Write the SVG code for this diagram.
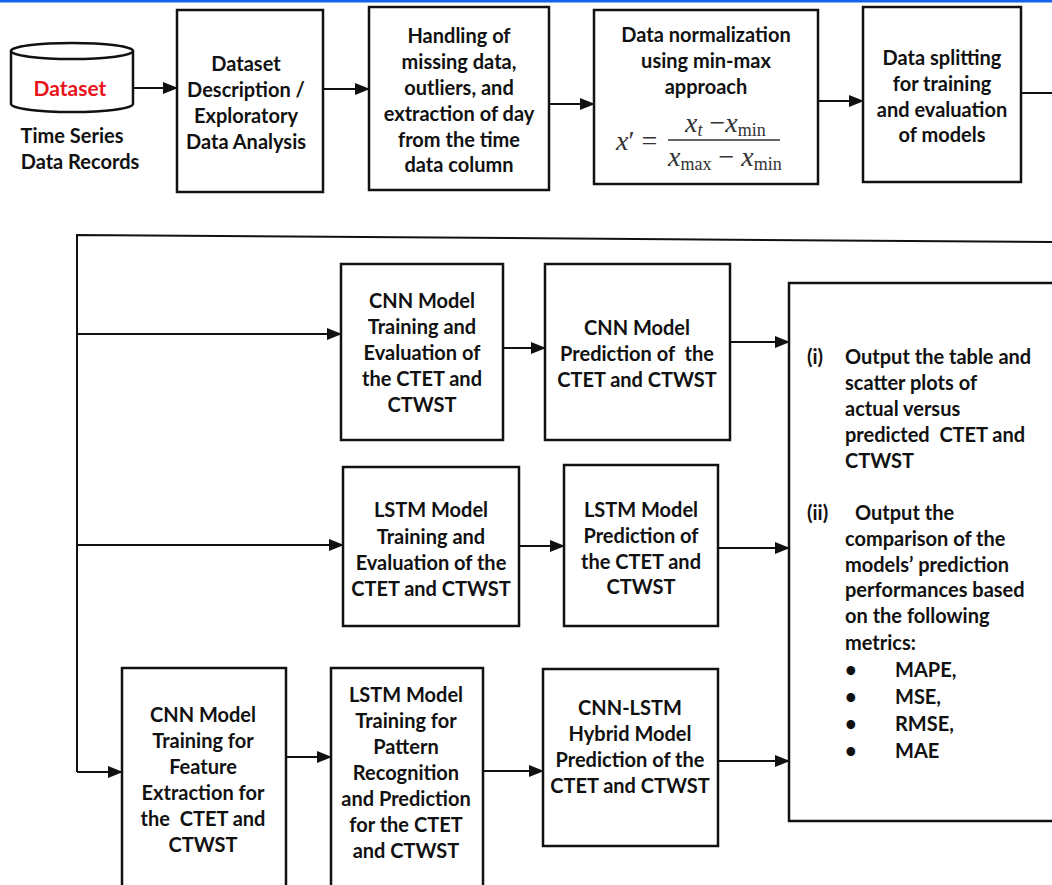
<svg xmlns="http://www.w3.org/2000/svg" width="1052" height="885" viewBox="0 0 1052 885">
<style>
.box{fill:#fff;stroke:#111;stroke-width:2.5}
.ln{fill:none;stroke:#111;stroke-width:2}
.t{font-family:Lato,"Open Sans","Liberation Sans",sans-serif;font-weight:bold;font-size:20px;fill:#111;text-anchor:middle;dominant-baseline:central}
.ts{font-family:Lato,"Open Sans","Liberation Sans",sans-serif;font-weight:bold;font-size:20px;fill:#111;dominant-baseline:central}
.m{font-family:"Liberation Serif","DejaVu Serif",serif;fill:#333;font-size:28px}
</style>
<defs>
<marker id="ah" markerUnits="userSpaceOnUse" markerWidth="15" markerHeight="12" refX="14" refY="6" orient="auto">
<path d="M0,0 L15,6 L0,12 z" fill="#111"/>
</marker>
</defs>
<rect x="0" y="0" width="1052" height="2.5" fill="#1463ea"/>

<g id="connectors">
<line class="ln" x1="133" y1="88" x2="177" y2="88" marker-end="url(#ah)"/>
<line class="ln" x1="323" y1="89" x2="369" y2="89" marker-end="url(#ah)"/>
<line class="ln" x1="549" y1="104" x2="594" y2="104" marker-end="url(#ah)"/>
<line class="ln" x1="818" y1="101" x2="863" y2="101" marker-end="url(#ah)"/>
<line class="ln" x1="1021" y1="93" x2="1052" y2="93"/>
<path class="ln" d="M1052,242 L77,235 L77,772"/>
<line class="ln" x1="77" y1="772" x2="122" y2="772" marker-end="url(#ah)"/>
<line class="ln" x1="77" y1="334" x2="341" y2="334" marker-end="url(#ah)"/>
<line class="ln" x1="77" y1="545" x2="343" y2="545" marker-end="url(#ah)"/>
<line class="ln" x1="503" y1="348" x2="545" y2="348" marker-end="url(#ah)"/>
<line class="ln" x1="730" y1="342" x2="789" y2="342" marker-end="url(#ah)"/>
<line class="ln" x1="519" y1="546" x2="564" y2="546" marker-end="url(#ah)"/>
<line class="ln" x1="718" y1="548" x2="789" y2="548" marker-end="url(#ah)"/>
<line class="ln" x1="286" y1="757" x2="331" y2="757" marker-end="url(#ah)"/>
<line class="ln" x1="483" y1="771" x2="543" y2="771" marker-end="url(#ah)"/>
<line class="ln" x1="718" y1="761" x2="789" y2="761" marker-end="url(#ah)"/>
</g>

<g id="dataset">
<path class="box" d="M11,51 V104 A61,8 0 0 0 133,104 V51"/>
<ellipse class="box" cx="72" cy="51" rx="61" ry="8"/>
<text class="t" x="70" y="87" style="fill:#e8141a;font-size:21px">Dataset</text>
<text class="t" x="72" y="135">Time Series</text>
<text class="t" x="80" y="161">Data Records</text>
</g>

<g id="eda">
<rect class="box" x="177" y="10" width="146" height="182"/>
<text class="t" x="246" y="63">Dataset</text>
<text class="t" x="246" y="89">Description /</text>
<text class="t" x="246" y="115">Exploratory</text>
<text class="t" x="246" y="141">Data Analysis</text>
</g>

<g id="handling">
<rect class="box" x="369" y="7" width="180" height="183"/>
<text class="t" x="459" y="35">Handling of</text>
<text class="t" x="459" y="61">missing data,</text>
<text class="t" x="459" y="87">outliers, and</text>
<text class="t" x="459" y="113">extraction of day</text>
<text class="t" x="459" y="139">from the time</text>
<text class="t" x="459" y="164">data column</text>
</g>

<g id="normalization">
<rect class="box" x="594" y="10" width="224" height="174"/>
<text class="t" x="706" y="34">Data normalization</text>
<text class="t" x="706" y="60">using min-max</text>
<text class="t" x="706" y="86">approach</text>
<text class="m" x="616" y="150"><tspan font-style="italic">x</tspan>′ =</text>
<text class="m" x="685" y="132"><tspan font-style="italic">x</tspan><tspan font-style="italic" font-size="18" dy="4">t</tspan><tspan dy="-4"> −</tspan><tspan font-style="italic">x</tspan><tspan font-size="18" dy="4">min</tspan></text>
<line x1="668" y1="140" x2="780" y2="140" stroke="#333" stroke-width="1.5"/>
<text class="m" x="668" y="166"><tspan font-style="italic">x</tspan><tspan font-size="18" dy="4">max</tspan><tspan dy="-4"> − </tspan><tspan font-style="italic">x</tspan><tspan font-size="18" dy="4">min</tspan></text>
</g>

<g id="splitting">
<rect class="box" x="863" y="7" width="158" height="175"/>
<text class="t" x="942" y="57">Data splitting</text>
<text class="t" x="942" y="83">for training</text>
<text class="t" x="942" y="109">and evaluation</text>
<text class="t" x="942" y="134">of models</text>
</g>

<g id="cnn-train">
<rect class="box" x="341" y="264" width="162" height="176"/>
<text class="t" x="422" y="300">CNN Model</text>
<text class="t" x="422" y="326">Training and</text>
<text class="t" x="422" y="352">Evaluation of</text>
<text class="t" x="422" y="378">the CTET and</text>
<text class="t" x="422" y="404">CTWST</text>
</g>

<g id="cnn-pred">
<rect class="box" x="545" y="264" width="185" height="176"/>
<text class="t" x="637" y="327">CNN Model</text>
<text class="t" x="637" y="353" xml:space="preserve">Prediction of  the</text>
<text class="t" x="637" y="379">CTET and CTWST</text>
</g>

<g id="lstm-train">
<rect class="box" x="343" y="467" width="176" height="159"/>
<text class="t" x="431" y="509">LSTM Model</text>
<text class="t" x="431" y="536">Training and</text>
<text class="t" x="431" y="562">Evaluation of the</text>
<text class="t" x="431" y="588">CTET and CTWST</text>
</g>

<g id="lstm-pred">
<rect class="box" x="564" y="465" width="154" height="161"/>
<text class="t" x="641" y="509">LSTM Model</text>
<text class="t" x="641" y="535">Prediction of</text>
<text class="t" x="641" y="561">the CTET and</text>
<text class="t" x="641" y="586">CTWST</text>
</g>

<g id="cnn-feature">
<path class="box" d="M122,886 V668 H286 V886"/>
<text class="t" x="203" y="714">CNN Model</text>
<text class="t" x="203" y="740">Training for</text>
<text class="t" x="203" y="766">Feature</text>
<text class="t" x="203" y="792">Extraction for</text>
<text class="t" x="203" y="818" xml:space="preserve">the  CTET and</text>
<text class="t" x="203" y="844">CTWST</text>
</g>

<g id="lstm-pattern">
<path class="box" d="M331,886 V668 H483 V886"/>
<text class="t" x="406" y="694">LSTM Model</text>
<text class="t" x="406" y="720">Training for</text>
<text class="t" x="406" y="746">Pattern</text>
<text class="t" x="406" y="772">Recognition</text>
<text class="t" x="406" y="798">and Prediction</text>
<text class="t" x="406" y="824">for the CTET</text>
<text class="t" x="406" y="850">and CTWST</text>
</g>

<g id="hybrid">
<rect class="box" x="543" y="669" width="175" height="177"/>
<text class="t" x="630" y="707">CNN-LSTM</text>
<text class="t" x="630" y="733">Hybrid Model</text>
<text class="t" x="630" y="759">Prediction of the</text>
<text class="t" x="630" y="785">CTET and CTWST</text>
</g>

<g id="output">
<path class="box" d="M1053,283 H789 V821 H1053"/>
<text class="ts" x="807" y="356">(i)</text>
<text class="ts" x="845" y="356">Output the table and</text>
<text class="ts" x="845" y="382">scatter plots of</text>
<text class="ts" x="845" y="408">actual versus</text>
<text class="ts" x="845" y="434" xml:space="preserve">predicted  CTET and</text>
<text class="ts" x="845" y="460">CTWST</text>
<text class="ts" x="807" y="512">(ii)</text>
<text class="ts" x="855" y="512">Output the</text>
<text class="ts" x="845" y="538">comparison of the</text>
<text class="ts" x="845" y="564">models’ prediction</text>
<text class="ts" x="845" y="589">performances based</text>
<text class="ts" x="845" y="615">on the following</text>
<text class="ts" x="845" y="642">metrics:</text>
<text class="ts" x="845" y="669">•</text><text class="ts" x="895" y="669">MAPE,</text>
<text class="ts" x="845" y="696">•</text><text class="ts" x="895" y="696">MSE,</text>
<text class="ts" x="845" y="723">•</text><text class="ts" x="895" y="723">RMSE,</text>
<text class="ts" x="845" y="750">•</text><text class="ts" x="895" y="750">MAE</text>
</g>
</svg>
